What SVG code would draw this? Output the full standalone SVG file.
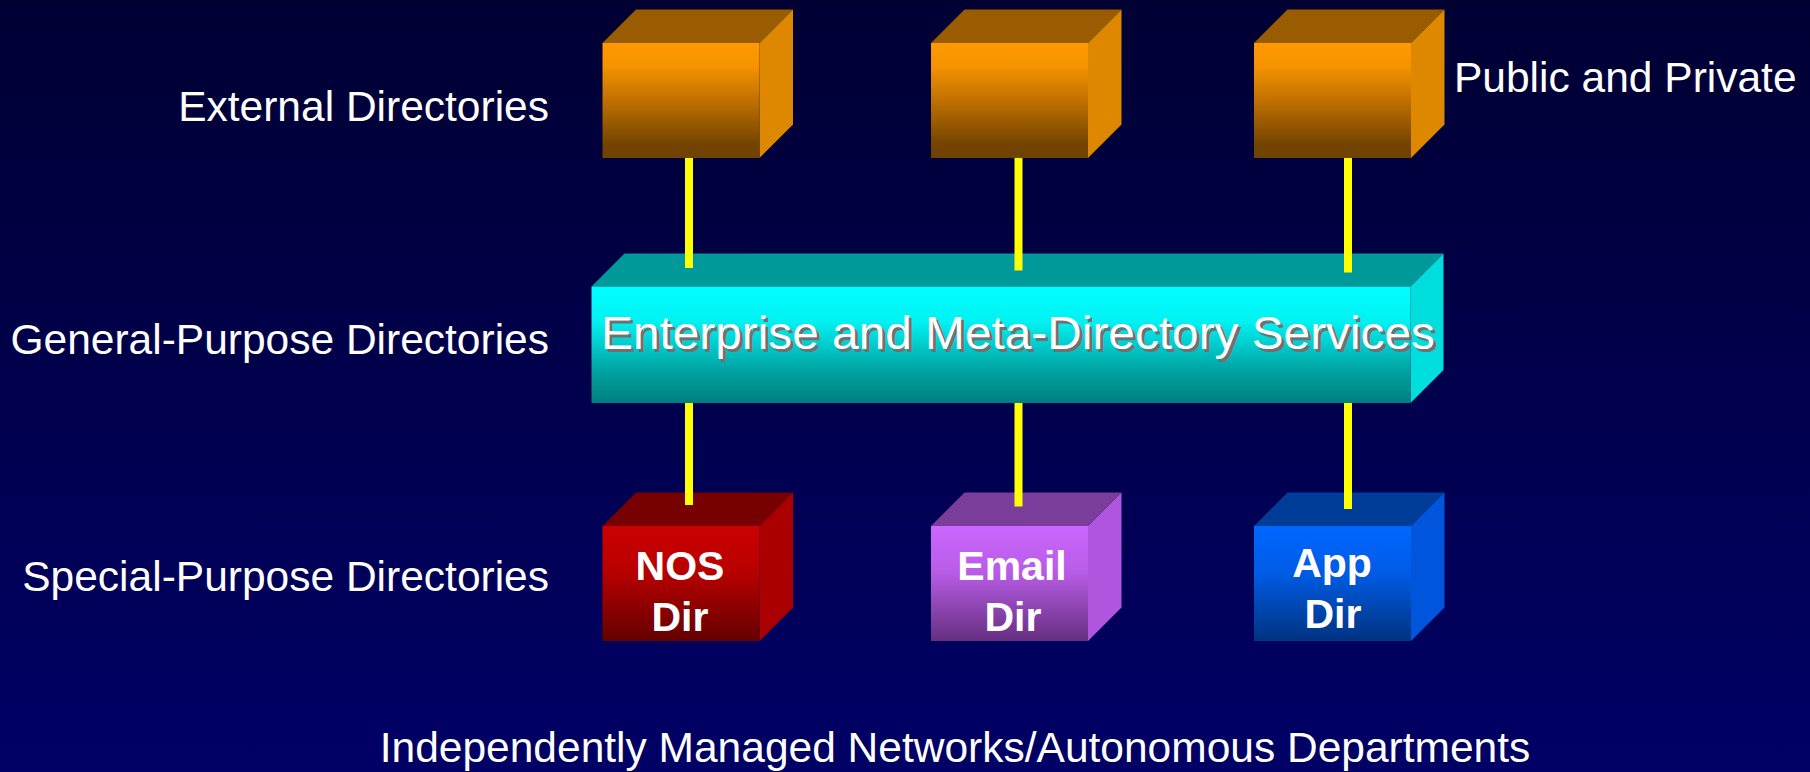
<svg xmlns="http://www.w3.org/2000/svg" width="1810" height="772" viewBox="0 0 1810 772">
  <defs>
    <linearGradient id="bg" x1="0" y1="0" x2="0" y2="1">
      <stop offset="0" stop-color="#000033"/>
      <stop offset="1" stop-color="#000066"/>
    </linearGradient>
    <linearGradient id="gOrange" x1="0" y1="0" x2="0" y2="1">
      <stop offset="0" stop-color="#FF9900"/>
      <stop offset="0.2" stop-color="#F59300"/>
      <stop offset="0.5" stop-color="#C07000"/>
      <stop offset="0.88" stop-color="#744400"/>
      <stop offset="1" stop-color="#6E4200"/>
    </linearGradient>
    <linearGradient id="gCyan" x1="0" y1="0" x2="0" y2="1">
      <stop offset="0" stop-color="#00FFFF"/>
      <stop offset="0.3" stop-color="#00F2F2"/>
      <stop offset="0.7" stop-color="#00A6A6"/>
      <stop offset="1" stop-color="#007E7E"/>
    </linearGradient>
    <linearGradient id="gRed" x1="0" y1="0" x2="0" y2="1">
      <stop offset="0" stop-color="#CC0000"/>
      <stop offset="0.4" stop-color="#B80000"/>
      <stop offset="1" stop-color="#640000"/>
    </linearGradient>
    <linearGradient id="gPurple" x1="0" y1="0" x2="0" y2="1">
      <stop offset="0" stop-color="#CC66FF"/>
      <stop offset="0.4" stop-color="#B85CE6"/>
      <stop offset="1" stop-color="#652F80"/>
    </linearGradient>
    <linearGradient id="gBlue" x1="0" y1="0" x2="0" y2="1">
      <stop offset="0" stop-color="#0066FF"/>
      <stop offset="0.4" stop-color="#005CE6"/>
      <stop offset="1" stop-color="#003380"/>
    </linearGradient>
  </defs>
  <style>
    .lbl { font-family: "Liberation Sans", Arial, sans-serif; font-size: 42.5px; fill: #FFFFFF; }
    .box { font-family: "Liberation Sans", Arial, sans-serif; font-size: 41px; font-weight: bold; fill: #FFFFFF; text-anchor: middle; }
    .band { font-family: "Liberation Sans", Arial, sans-serif; font-size: 47px; }
    .conn { fill: #FFFF00; }
    .oTop { fill: #995C00; }
    .oSide { fill: #DD8800; }
  </style>

  <rect x="0" y="0" width="1810" height="772" fill="url(#bg)"/>

  <g id="labels">
    <text class="lbl" x="549" y="121" text-anchor="end">External Directories</text>
    <text class="lbl" x="549" y="354" text-anchor="end">General-Purpose Directories</text>
    <text class="lbl" x="549" y="591" text-anchor="end">Special-Purpose Directories</text>
    <text class="lbl" x="1454" y="92">Public and Private</text>
    <text class="lbl" x="955" y="762" text-anchor="middle">Independently Managed Networks/Autonomous Departments</text>
  </g>

  <g id="ext1">
    <polygon class="oTop" points="602.5,43 636,9.5 793,9.5 759.5,43"/>
    <polygon class="oSide" points="759.5,43 793,9.5 793,124.5 759.5,158"/>
    <rect x="602.5" y="43" width="157" height="115" fill="url(#gOrange)"/>
  </g>
  <g id="ext2">
    <polygon class="oTop" points="931,43 964.5,9.5 1121.5,9.5 1088,43"/>
    <polygon class="oSide" points="1088,43 1121.5,9.5 1121.5,124.5 1088,158"/>
    <rect x="931" y="43" width="157" height="115" fill="url(#gOrange)"/>
  </g>
  <g id="ext3">
    <polygon class="oTop" points="1254,43 1287.5,9.5 1444.5,9.5 1411,43"/>
    <polygon class="oSide" points="1411,43 1444.5,9.5 1444.5,124.5 1411,158"/>
    <rect x="1254" y="43" width="157" height="115" fill="url(#gOrange)"/>
  </g>

  <g id="enterprise">
    <polygon fill="#009999" points="591.5,286.5 624.5,253.5 1443.5,253.5 1410.5,286.5"/>
    <polygon fill="#00DDDD" points="1410.5,286.5 1443.5,253.5 1443.5,370 1410.5,403"/>
    <rect x="591.5" y="286.5" width="819" height="116.5" fill="url(#gCyan)"/>
  </g>

  <g id="nos">
    <polygon fill="#770000" points="602.5,526 636,492.5 793,492.5 759.5,526"/>
    <polygon fill="#AA0000" points="759.5,526 793,492.5 793,607.5 759.5,641"/>
    <rect x="602.5" y="526" width="157" height="115" fill="url(#gRed)"/>
    <text class="box" x="680" y="580">NOS</text>
    <text class="box" x="680" y="631">Dir</text>
  </g>
  <g id="email">
    <polygon fill="#7A3D99" points="931,526 964.5,492.5 1121.5,492.5 1088,526"/>
    <polygon fill="#B055DD" points="1088,526 1121.5,492.5 1121.5,607.5 1088,641"/>
    <rect x="931" y="526" width="157" height="115" fill="url(#gPurple)"/>
    <text class="box" x="1012" y="580">Email</text>
    <text class="box" x="1013" y="631">Dir</text>
  </g>
  <g id="app">
    <polygon fill="#003D99" points="1254,526 1287.5,492.5 1444.5,492.5 1411,526"/>
    <polygon fill="#0055DD" points="1411,526 1444.5,492.5 1444.5,607.5 1411,641"/>
    <rect x="1254" y="526" width="157" height="115" fill="url(#gBlue)"/>
    <text class="box" x="1332" y="577">App</text>
    <text class="box" x="1333" y="628">Dir</text>
  </g>

  <g id="connectors">
    <rect class="conn" x="685" y="158" width="8" height="110"/>
    <rect class="conn" x="1014.5" y="158" width="8" height="112.5"/>
    <rect class="conn" x="1344" y="158" width="8" height="114.5"/>
    <rect class="conn" x="685" y="403" width="8" height="102"/>
    <rect class="conn" x="1014.5" y="403" width="8" height="103.5"/>
    <rect class="conn" x="1344" y="403" width="8" height="106"/>
  </g>

  <g id="enterprise-label">
    <text class="band" x="604" y="352" fill="#707070" textLength="834" lengthAdjust="spacingAndGlyphs">Enterprise and Meta-Directory Services</text>
    <text class="band" x="601" y="349" fill="#FFFFFF" textLength="834" lengthAdjust="spacingAndGlyphs">Enterprise and Meta-Directory Services</text>
  </g>
</svg>
